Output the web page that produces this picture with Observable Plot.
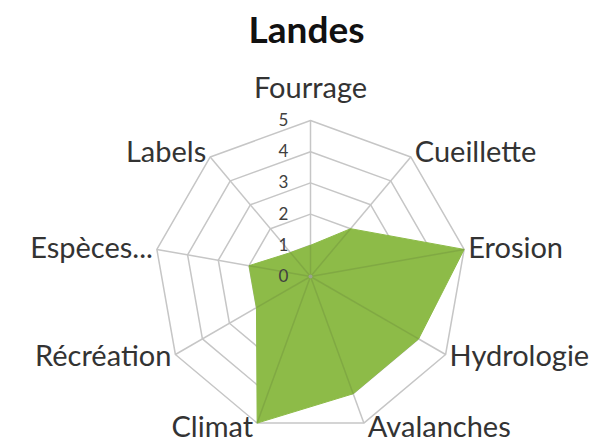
<!DOCTYPE html>
<html>
<head>
<meta charset="utf-8">
<script src="https://cdn.jsdelivr.net/npm/d3@7"></script>
<script src="https://cdn.jsdelivr.net/npm/@observablehq/plot@0.6"></script>
<style>
  html, body { margin: 0; padding: 0; background: #fff; }
  #chart svg { display: block; }
</style>
</head>
<body>
<div id="chart"></div>
<script>
const title = "Landes";
const categories = ["Fourrage", "Cueillette", "Erosion", "Hydrologie", "Avalanches", "Climat", "Récréation", "Espèces...", "Labels"];
const values = [1, 2, 5, 4, 4, 5, 2, 2, 1];
const ticks = [0, 1, 2, 3, 4, 5];

const W = 608, H = 446;
const cx = 310, cy = 276, unit = 31.2;
const maxV = d3.max(ticks);
const n = categories.length;
const ang = i => (2 * Math.PI * i) / n;
const px = (i, v) => v * Math.sin(ang(i));
const py = (i, v) => v * Math.cos(ang(i));

const rings = ticks.filter(t => t > 0).flatMap(t =>
  categories.map((c, i) => ({ring: t, x: px(i, t), y: py(i, t)})));
const spokes = categories.map((c, i) => ({x2: px(i, maxV), y2: py(i, maxV)}));
const innerSpokes = categories.map((c, i) => ({x2: px(i, values[i]), y2: py(i, values[i])}));
const poly = categories.map((c, i) => ({x: px(i, values[i]), y: py(i, values[i])}));

// label placement: offset (in pixels) from the outer vertex, converted to data units
const labels = categories.map((c, i) => {
  const s = Math.sin(ang(i)), co = Math.cos(ang(i));
  const side = Math.abs(s) < 0.1 ? 0 : Math.sign(s);
  const offX = side * 4;
  const offY = side === 0 ? (co > 0 ? -32 : 12) : -5 * co;
  return {
    name: c,
    side,
    x: px(i, maxV) + offX / unit,
    y: py(i, maxV) - offY / unit
  };
});

const font = "Lato, 'Open Sans', sans-serif";
const labelStyle = {x: "x", y: "y", text: "name", fontSize: 29, fill: "#333"};
const chart = Plot.plot({
  width: W, height: H, margin: 0,
  style: {fontFamily: font, background: "#fff"},
  x: {axis: null, domain: [-cx / unit, (W - cx) / unit]},
  y: {axis: null, domain: [-(H - cy) / unit, cy / unit]},
  marks: [
    Plot.line(rings, {x: "x", y: "y", z: "ring", curve: "linear-closed", stroke: "#c6c6c6", strokeWidth: 1.5}),
    Plot.link(spokes, {x1: 0, y1: 0, x2: "x2", y2: "y2", stroke: "#c6c6c6", strokeWidth: 1.5}),
    Plot.line(poly, {x: "x", y: "y", curve: "linear-closed", fill: "#8dbb48", stroke: "#8dbb48", strokeWidth: 1}),
    Plot.link(innerSpokes, {x1: 0, y1: 0, x2: "x2", y2: "y2", stroke: "#6e8f3c", strokeOpacity: 0.4, strokeWidth: 1.5}),
    Plot.dot([0], {x: 0, y: 0, r: 2, fill: "#9aa38d"}),
    Plot.text(ticks, {x: 0, y: d => d, text: d => String(d), dx: -27, fontSize: 17, fill: "#404040"}),
    Plot.text(labels.filter(d => d.side === 0), {...labelStyle, textAnchor: "middle"}),
    Plot.text(labels.filter(d => d.side > 0), {...labelStyle, textAnchor: "start"}),
    Plot.text(labels.filter(d => d.side < 0), {...labelStyle, textAnchor: "end"}),
    Plot.text([title], {frameAnchor: "top", dx: 2, dy: 16, text: d => d, fontSize: 37, fontWeight: "bold", fill: "#111"})
  ]
});
document.getElementById("chart").append(chart);
</script>
</body>
</html>
